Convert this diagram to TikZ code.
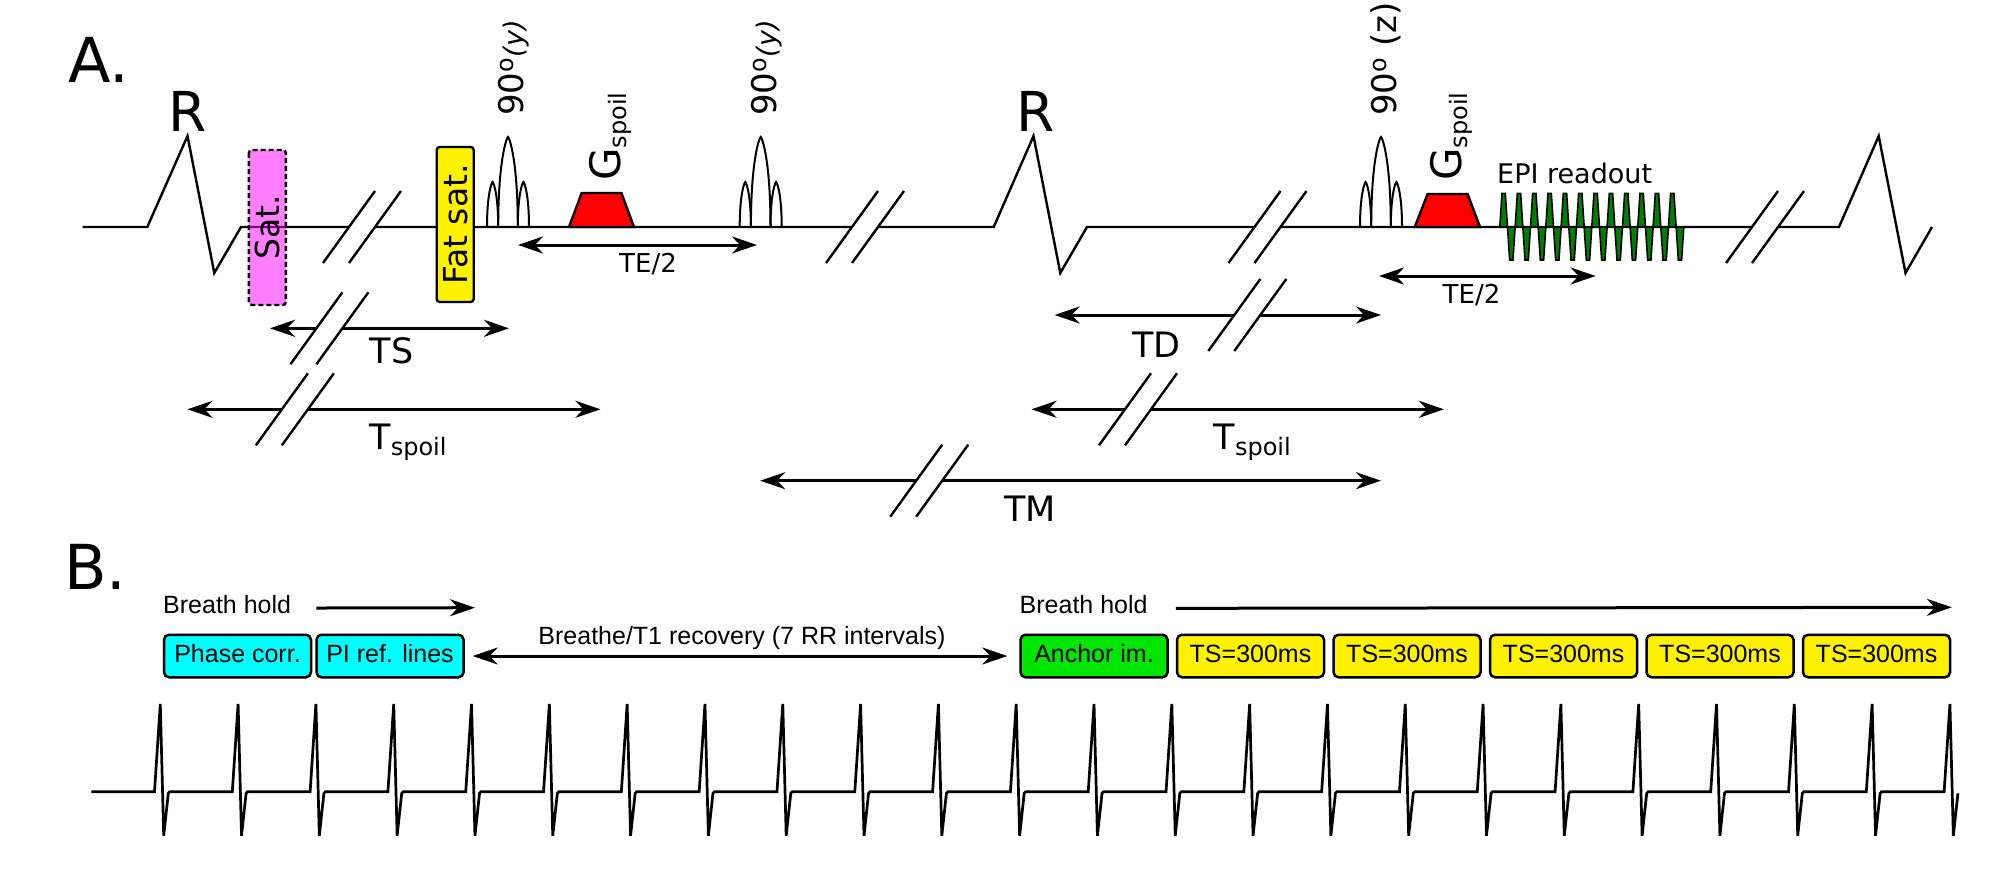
\documentclass[tikz,border=0pt]{standalone}
\usepackage{fontspec}
\setmainfont{DejaVu Sans}
\newfontfamily\arialfont{Liberation Sans}
\usetikzlibrary{arrows.meta,positioning}
\newcommand{\fsz}[1]{\fontsize{#1}{#1}\selectfont}
\newcommand{\lowtext}[1]{\raisebox{-6pt}{\fsz{24}#1}}
\definecolor{satpink}{RGB}{255,0,255}
\definecolor{anchorgreen}{RGB}{0,230,0}
\definecolor{epigreen}{RGB}{0,128,0}
\definecolor{refcyan}{RGB}{0,255,255}
\tikzset{
  wave/.style={line width=2.4pt},
  dimarrow/.style={line width=3pt, {Stealth[length=25pt,width=17pt,inset=8pt]}-{Stealth[length=25pt,width=17pt,inset=8pt]}},
  onearrow/.style={line width=3pt, -{Stealth[length=25pt,width=17pt,inset=8pt]}},
  lab/.style={inner sep=0pt, font=\fsz{35}},
  smalllab/.style={inner sep=0pt, font=\fsz{26}},
  pulsebox/.style={draw, line width=2.4pt, rounded corners=3pt, rotate=90, minimum width=155pt, minimum height=37pt, inner sep=0pt, font=\fsz{33}},
  bbox/.style={draw, line width=2.5pt, rounded corners=5pt, minimum width=147pt, minimum height=42.5pt, inner sep=2pt, text height=18pt, text depth=5pt, font=\arialfont\fsz{25}},
  btext/.style={inner sep=0pt, font=\arialfont\fsz{25}},
}
\begin{document}
\begin{tikzpicture}[x=1pt,y=-1pt]
\useasboundingbox (0,0) rectangle (1997,880);

% A. sequence
\node[anchor=base west, inner sep=0pt, font=\fsz{62}] (labA) at (68,83) {A.};
\draw[wave] (82.6,227) -- (147.3,227) -- (187.5,136) -- (214.3,273) -- (241,227)
  -- (993.7,227) -- (1033.5,136) -- (1060.3,273) -- (1087,227)
  -- (1839,227) -- (1878.7,136) -- (1905.5,273) -- (1932,227);
\coordinate (peak1) at (187.5,136);
\coordinate (peak2) at (1036,136);
\node[above=4pt of peak1, inner sep=0pt, font=\fsz{55}] (R1) {R};
\node[above=4pt of peak2, inner sep=0pt, font=\fsz{55}] (R2) {R};

% rf pulses
\foreach \pc in {508,760.7,1381}
{
    \foreach \la/\lb/\lh in {-21/-9.8/45,-9.8/9.8/90,9.8/21/45}
    {
        \draw[line width=2pt] ({\pc+\la},227) .. controls ({\pc+\la},{227-0.75*\lh}) and ({\pc+0.5*(\la+\lb)-0.06*(\lb-\la)},{227-\lh}) .. ({\pc+0.5*(\la+\lb)},{227-\lh})
            .. controls ({\pc+0.5*(\la+\lb)+0.06*(\lb-\la)},{227-\lh}) and ({\pc+\lb},{227-0.75*\lh}) .. ({\pc+\lb},227);
    }
}
\node[rotate=90, anchor=base west, inner sep=0pt, font=\fsz{34}] (rf1) at (523,116) {90\textsuperscript{o}{\fsz{27}\itshape (y)}};
\node[rotate=90, anchor=base west, inner sep=0pt, font=\fsz{34}] (rf2) at (776,116) {90\textsuperscript{o}{\fsz{27}\itshape (y)}};
\node[rotate=90, anchor=base west, inner sep=0pt, font=\fsz{34}] (rf3) at (1396,116) {90\textsuperscript{o} (z)};

% spoiler gradients
\filldraw[fill=red, line width=2.4pt] (569,227) -- (581.7,193) -- (621.4,193) -- (634,227) -- cycle;
\filldraw[fill=red, line width=2.4pt] (1414.7,227) -- (1427.6,194) -- (1467.6,194) -- (1480,227) -- cycle;
\node[rotate=90, anchor=base west, inner sep=0pt, font=\fsz{42}] (gsp1) at (620,181) {G\lowtext{spoil}};
\node[rotate=90, anchor=base west, inner sep=0pt, font=\fsz{42}] (gsp2) at (1461,181) {G\lowtext{spoil}};

% EPI readout
\filldraw[fill=epigreen, line width=1.6pt] (1499.8,227)
    \foreach \k in {0,...,11} { -- ({1502+15.33*\k},193.3) -- ({1505.3+15.33*\k},193.3) -- ({1509.67+15.33*\k},260) -- ({1512.97+15.33*\k},260) }
    -- (1683.8,227) -- cycle;
\node[anchor=base west, inner sep=0pt, font=\fsz{27}] (epilab) at (1497,183) {EPI readout};

% saturation blocks
\node[pulsebox, fill=satpink, fill opacity=0.5, text opacity=1, dash pattern=on 5pt off 3pt] (sat) at (267.4,227.5) {Sat.};
\node[pulsebox, fill=yellow] (fatsat) at (455.2,224.5) {Fat sat.};

% timings
\coordinate (tsL) at (270,328.3);
\coordinate (tsR) at (509,328.3);
\coordinate (tspaL) at (187.5,409.3);
\coordinate (tspaR) at (600.4,409.3);
\coordinate (teaL) at (518,245);
\coordinate (teaR) at (757,245);
\coordinate (tebL) at (1379,276);
\coordinate (tebR) at (1595.6,276);
\coordinate (tdL) at (1054.6,315);
\coordinate (tdR) at (1381,315);
\coordinate (tspbL) at (1031.6,409.3);
\coordinate (tspbR) at (1443.9,409.3);
\coordinate (tmL) at (760.2,480.7);
\coordinate (tmR) at (1381,480.7);
\draw[dimarrow] (tsL) -- node[lab, below=8pt, pos=0.509] (tslab) {TS} (tsR);
\draw[dimarrow] (tspaL) -- node[lab, below=13pt, pos=0.534] (tspalab) {T\lowtext{spoil}} (tspaR);
\draw[dimarrow] (teaL) -- node[smalllab, below=7pt, pos=0.544] (tealab) {TE/2} (teaR);
\draw[dimarrow] (tebL) -- node[smalllab, below=7pt, pos=0.427] (teblab) {TE/2} (tebR);
\draw[dimarrow] (tdL) -- node[lab, below=15pt, pos=0.313] (tdlab) {TD} (tdR);
\draw[dimarrow] (tspbL) -- node[lab, below=13pt, pos=0.535] (tspblab) {T\lowtext{spoil}} (tspbR);
\draw[dimarrow] (tmL) -- node[lab, below=14pt, pos=0.435] (tmlab) {TM} (tmR);

% breaks
\foreach \cx/\cy in {362/227,865/227,1267.5/227,1765/227,329.4/328.3,294.9/409.3,1247.3/315,1138/409.3,929.2/480.7}
{
    \fill[white] ({\cx-17.3},{\cy+6}) -- ({\cx-8.7},{\cy-6}) -- ({\cx+17.3},{\cy-6}) -- ({\cx+8.7},{\cy+6}) -- cycle;
    \draw[line width=2.4pt] ({\cx-39},{\cy+36}) -- ({\cx+13},{\cy-36});
    \draw[line width=2.4pt] ({\cx-13},{\cy+36}) -- ({\cx+39},{\cy-36});
}

% B. acquisition scheme
\node[anchor=base west, inner sep=0pt, font=\fsz{62}] (labB) at (64,589) {B.};
\node[btext, anchor=base west] (bh1) at (163,613) {Breath hold};
\coordinate (bh1end) at (475,607.7);
\draw[onearrow, shorten <=25pt] ([yshift=-4pt]bh1.east) -- (bh1end);
\node[btext, anchor=base west] (bh2) at (1019.5,613.3) {Breath hold};
\coordinate (bh2end) at (1951.8,607.3);
\draw[onearrow, shorten <=28pt] ([yshift=-4pt]bh2.east) -- (bh2end);

\node[bbox, fill=refcyan] (phase) at (237.5,656) {Phase corr.};
\node[bbox, fill=refcyan, right=3pt of phase] (piref) {PI ref. lines};
\node[bbox, fill=anchorgreen] (anchorim) at (1094,656) {Anchor im.};
\node[bbox, fill=yellow, right=7pt of anchorim] (ts1) {TS=300ms};
\foreach \i [count=\j from 1] in {2,...,5}
{
    \node[bbox, fill=yellow, right=7pt of ts\j] (ts\i) {TS=300ms};
}
\draw[dimarrow, shorten <=8pt, shorten >=12pt] (piref.east) -- node[btext, above=5pt, midway] (recov) {Breathe/T1 recovery (7 RR intervals)} (anchorim.west);

% ECG
\draw[line width=2.7pt] (91.4,791.7)
    \foreach \k in {0,...,22} { -- ({154.5+77.81*\k},791.7) -- ({160.3+77.81*\k},704) -- ({163.7+77.81*\k},835.7) -- ({168.3+77.81*\k},793.3) -- ({169.8+77.81*\k},791.7) }
    -- ({154.5+77.81*23},791.7) -- ({160.3+77.81*23},704) -- ({163.7+77.81*23},835.7) -- ({168.3+77.81*23},793.3);
\end{tikzpicture}
\end{document}
